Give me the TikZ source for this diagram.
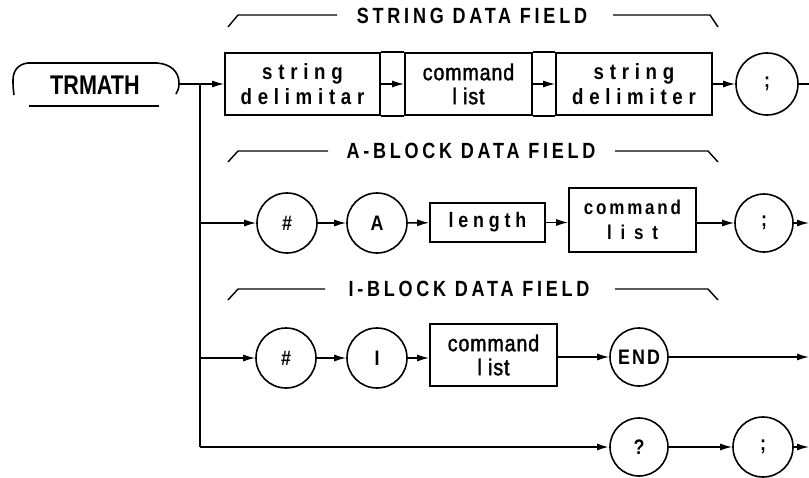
\documentclass[tikz,border=0pt]{standalone}
\usepackage{fontspec}
\setmainfont[FakeStretch=0.85]{Liberation Sans}
\newfontfamily\trfont[FakeStretch=0.8]{Liberation Sans}
\newfontfamily\hdrfont[FakeStretch=0.82,LetterSpace=17]{Liberation Sans}
\newfontfamily\widefont[FakeStretch=0.85,LetterSpace=26]{Liberation Sans}
\newfontfamily\lenfont[FakeStretch=0.85,LetterSpace=23]{Liberation Sans}
\newfontfamily\cmdfont[FakeStretch=0.85,LetterSpace=14]{Liberation Sans}
\newfontfamily\listfont[FakeStretch=0.85,LetterSpace=44]{Liberation Sans}
\newfontfamily\plainfont[FakeStretch=0.85,LetterSpace=4,RawFeature={embolden=1.6}]{Liberation Sans}
\newfontfamily\endfont[FakeStretch=0.85,LetterSpace=10]{Liberation Sans}
\usetikzlibrary{arrows.meta}
\begin{document}
\begin{tikzpicture}[x=1pt,y=1pt,
  ln/.style={line width=1.4pt},
  arr/.style={line width=1.4pt,-{Latex[length=12pt,width=7pt]}},
  circ/.style={circle,draw,line width=1.6pt,minimum size=60pt,inner sep=0pt,font=\fontsize{21}{21}\selectfont\bfseries},
  boxnode/.style={rectangle,draw,line width=1.7pt,inner sep=0pt,align=center},
  boxline/.style={line width=1.7pt},
  hdr/.style={font=\fontsize{22}{22}\selectfont\hdrfont\bfseries},
  brace/.style={line width=1.4pt},
  spaced/.style={font=\fontsize{22}{25}\selectfont\widefont\bfseries},
  plain/.style={font=\fontsize{23}{24}\selectfont\plainfont}
]
\useasboundingbox (0,0) rectangle (809,-477);

% TRMATH
\node[font=\fontsize{27}{27}\selectfont\trfont\bfseries] (tr) at (95,-85) {TRMATH};
\draw[line width=1.6pt] (14,-95) .. controls (13,-88) and (13,-84) .. (13,-80) .. controls (13,-71) and (18,-64) .. (28,-63) -- (157,-63)
  .. controls (171,-64) and (179,-72) .. (179,-83) .. controls (179,-88) and (178,-91) .. (176,-94);
\draw[line width=2.2pt] (29,-106) -- (159,-106);
\coordinate (trR) at (179,-84);
\coordinate (j0) at (200,-84);
\coordinate (j2) at (200,-223);
\coordinate (j3) at (200,-358);
\coordinate (j4) at (200,-447);

% headers
\node[hdr] (h1) at (472,-16) {STRING DATA FIELD};
\draw[brace] (228,-27) -- (238,-15) -- (337,-15);
\draw[brace] (613,-15) -- (710,-15) -- (718,-27);
\node[hdr] (h2) at (471,-151) {A-BLOCK DATA FIELD};
\draw[brace] (228,-162) -- (238,-151) -- (328,-151);
\draw[brace] (615,-151) -- (708,-151) -- (718,-162);
\node[hdr] (h3) at (469,-289) {I-BLOCK DATA FIELD};
\draw[brace] (228,-300) -- (238,-289) -- (325,-289);
\draw[brace] (615,-289) -- (708,-289) -- (718,-300);

% row 1
\node[boxnode,spaced,minimum width=155pt,minimum height=62pt] (sd1) at (302.5,-84) {string\\delimitar};
\node[boxnode,plain,minimum width=127pt,minimum height=62pt] (cl1) at (468.5,-84) {command\\l ist};
\node[boxnode,spaced,minimum width=156pt,minimum height=62pt] (sd2) at (634,-84) {string\\delimiter};
\draw[boxline] (sd1.north east) -- (cl1.north west);
\draw[boxline] (sd1.south east) -- (cl1.south west);
\draw[boxline] (cl1.north east) -- (sd2.north west);
\draw[boxline] (cl1.south east) -- (sd2.south west);
\node[circ,minimum size=62pt] (s1) at (767,-84) {;};
\coordinate (e1) at (809,-84);

% row 2
\node[circ] (h2c) at (287,-223) {\#};
\node[circ] (a2) at (377,-223) {A};
\node[boxnode,font=\fontsize{21}{21}\selectfont\lenfont\bfseries,minimum width=115pt,minimum height=39pt] (len) at (487.5,-222.5) {length};
\node[boxnode,minimum width=127pt,minimum height=64pt,font=\fontsize{20}{25}\selectfont\bfseries] (cl2) at (632.5,-220) {{\cmdfont command}\\{\listfont list}};
\node[circ,minimum size=58pt] (s2) at (764,-223) {;};
\coordinate (e2) at (809,-223);

% row 3
\node[circ] (h3c) at (286,-358) {\#};
\node[circ] (i3) at (377,-358) {I};
\node[boxnode,plain,minimum width=127pt,minimum height=62pt] (cl3) at (493.5,-355) {command\\l ist};
\node[circ,minimum size=58pt] (end) at (639,-357) {\endfont END};
\coordinate (e3) at (809,-357);

% row 4
\node[circ,minimum size=58pt] (q) at (639,-447) {?};
\node[circ] (s4) at (763,-447) {;};
\coordinate (e4) at (809,-447);

% connectors
\draw[ln] (trR) -- (j0);
\draw[line width=2.5pt] (j0) -- (j4);
\draw[arr] (j0) -- (sd1);
\draw[arr] (sd1) -- (cl1);
\draw[arr] (cl1) -- (sd2);
\draw[arr] (sd2) -- (s1);
\draw[ln] (s1) -- (e1);

\draw[arr] (j2) -- (h2c);
\draw[arr] (h2c) -- (a2);
\draw[arr] (a2) -- (len);
\draw[arr] (len) -- (len -| cl2.west);
\draw[arr] (cl2.east |- s2) -- (s2);
\draw[arr] (s2) -- (e2);

\draw[arr] (j3) -- (h3c);
\draw[arr] (h3c) -- (i3);
\draw[arr] (i3) -- (i3 -| cl3.west);
\draw[arr] (cl3.east |- end) -- (end);
\draw[arr] (end) -- (e3);

\draw[arr,line width=2pt] (j4) -- (q);
\draw[arr] (q) -- (s4);
\draw[arr] (s4) -- (e4);
\end{tikzpicture}
\end{document}
